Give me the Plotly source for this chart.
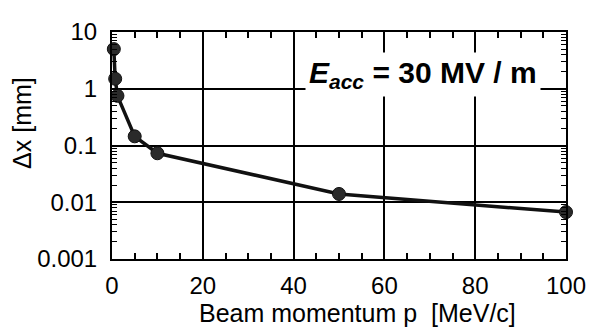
import plotly.graph_objects as go

momentum = [0.4, 0.7, 1.2, 5, 10, 50, 100]
dx_mm = [5.0, 1.5, 0.75, 0.145, 0.073, 0.014, 0.0067]
x_ticks = [0, 20, 40, 60, 80, 100]
y_ticks = [0.001, 0.01, 0.1, 1, 10]
y_tick_labels = ["0.001", "0.01", "0.1", "1", "10"]

FONT = "Liberation Sans, Arial, sans-serif"

fig = go.Figure()
fig.add_trace(go.Scatter(
    x=momentum, y=dx_mm, mode="lines+markers",
    line=dict(color="#111", width=3.5),
    marker=dict(size=13, color="#2a2a2a", line=dict(color="#111", width=1)),
    showlegend=False, cliponaxis=False,
))

fig.add_annotation(
    x=68.5, y=0.26, xref="x", yref="y",
    text="<b><i>E</i><sub><i>acc</i></sub> = 30 MV / m</b>",
    showarrow=False, bgcolor="white", borderpad=3,
    font=dict(family=FONT, size=30, color="black"),
    xanchor="center", yanchor="middle",
)
fig.add_annotation(
    x=0.54, y=-0.24, xref="paper", yref="paper",
    text="Beam momentum p  [MeV/c]", showarrow=False,
    font=dict(family=FONT, size=25, color="black"),
    xanchor="center", yanchor="middle",
)
fig.add_annotation(
    x=-0.198, y=0.60, xref="paper", yref="paper",
    text="Δx [mm]", showarrow=False, textangle=-90,
    font=dict(family=FONT, size=25, color="black"),
    xanchor="center", yanchor="middle",
)

fig.update_layout(
    width=592, height=330,
    margin=dict(l=112, r=26, t=32, b=71, autoexpand=False),
    paper_bgcolor="white", plot_bgcolor="white",
    font=dict(family=FONT, color="black", size=24),
    xaxis=dict(
        range=[0, 100], tickvals=x_ticks, ticks="inside", ticklen=6, tickwidth=1.5,
        tickcolor="black", showgrid=True, gridcolor="black", gridwidth=1.5,
        showline=True, linecolor="black", linewidth=2, mirror="allticks",
        zeroline=False, ticklabelstandoff=4, automargin=False,
        minor=dict(dtick=5, ticks="inside", ticklen=6, tickcolor="black", tickwidth=1.5, showgrid=False),
        tickfont=dict(size=24),
    ),
    yaxis=dict(
        type="log", range=[-3, 1], tickvals=y_ticks, ticktext=y_tick_labels,
        ticks="inside", ticklen=6, tickwidth=1.5, tickcolor="black",
        showgrid=True, gridcolor="black", gridwidth=1.5,
        showline=True, linecolor="black", linewidth=2, mirror="allticks",
        zeroline=False, ticklabelstandoff=8, automargin=False,
        minor=dict(dtick="D1", ticks="inside", ticklen=5, tickcolor="black", tickwidth=1.2, showgrid=False),
        tickfont=dict(size=24),
    ),
)

fig.write_html("out.html", config={"displayModeBar": False},
               post_script="document.body.style.margin='0';")
